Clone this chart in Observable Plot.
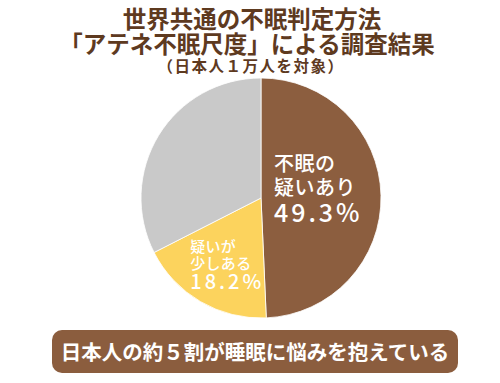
<!DOCTYPE html>
<html>
<head>
<meta charset="utf-8">
<script src="https://cdn.jsdelivr.net/npm/d3@7"></script>
<script src="https://cdn.jsdelivr.net/npm/@observablehq/plot@0.6"></script>
<style>
  html, body { margin: 0; padding: 0; background: #fff; }
  body { width: 500px; height: 383px; position: relative; overflow: hidden;
         font-family: "Noto Sans CJK JP", "Noto Sans", sans-serif; }
  .t { position: absolute; left: 0; width: 500px; text-align: center; color: #5e3a1f; font-weight: 700; white-space: nowrap; }
  #chart { position: absolute; left: 0; top: 75px; }
  #note { position: absolute; left: 52px; top: 330px; width: 406px; height: 43px; border-radius: 10px;
          background: #8b5d3e; color: #fff; font-weight: 700; font-size: 20.5px; line-height: 43px;
          text-align: center; white-space: nowrap; }
</style>
</head>
<body>
<div class="t" id="t1" style="top:6px;height:24px;line-height:24px;font-size:23.5px;left:2px;"></div>
<div class="t" id="t2" style="top:31px;height:24px;line-height:24px;font-size:23.5px;left:-3px;"></div>
<div class="t" id="t3" style="top:56px;height:18px;line-height:18px;font-size:15.5px;letter-spacing:1.5px;left:1px;"></div>
<div id="chart"></div>
<div id="note"></div>
<script>
// ---- data ----
const titleLines = ["世界共通の不眠判定方法", "「アテネ不眠尺度」による調査結果", "（日本人１万人を対象）"];
const categories = ["不眠の疑いあり", "不眠の疑いが少しある", "不眠の疑いなし"];
const sliceLabels = ["不眠の\n疑いあり", "疑いが\n少しある", ""];
const values = [49.3, 18.2, 32.5];
const percentLabels = ["49.3%", "18.2%", ""];
const noteText = "日本人の約５割が睡眠に悩みを抱えている";

// ---- styles ----
const sliceColors = ["#8c5e3f", "#fcd35d", "#c9c9c9"];
const labelStyle = [
  {k: 0.47, dx: -44, dyName: -22, dyPct: 17, nameSize: 20, pctSize: 25, lh: 1.22, ls: 3, nls: 0.5},
  {k: 0.60, dx: -35, dyName: -6, dyPct: 22, nameSize: 15, pctSize: 20, lh: 1.13, ls: 3, nls: 0.3},
  null
];

document.getElementById("t1").textContent = titleLines[0];
document.getElementById("t2").textContent = titleLines[1];
document.getElementById("t3").textContent = titleLines[2];
document.getElementById("note").textContent = noteText;

const table = categories.map((c, i) => ({category: c, label: sliceLabels[i], value: values[i], pct: percentLabels[i]}));
const arcs = d3.pie().sort(null).value(d => d.value)(table);
arcs.forEach(a => {
  a.mid = (a.startAngle + a.endAngle) / 2;
});

const R = 120, CX = 261, CY = 123;

const marks = [
  (index, scales) => {
    const {x, y} = scales;
    const cx = x(0), cy = y(0), r = Math.abs(x(1) - x(0));
    const arcGen = d3.arc().innerRadius(0).outerRadius(r);
    const g = d3.create("svg:g").attr("transform", `translate(${cx},${cy})`);
    g.selectAll("path").data(arcs).join("path")
      .attr("d", arcGen)
      .attr("fill", d => sliceColors[d.index])
      .attr("stroke", "#fff")
      .attr("stroke-width", 0.8);
    return g.node();
  }
];

const spacingByText = new Map();
arcs.forEach((a, i) => {
  const s = labelStyle[i];
  if (!s) return;
  const pos = [{x: s.k * Math.sin(a.mid), y: -s.k * Math.cos(a.mid), label: a.data.label, pct: a.data.pct}];
  spacingByText.set(a.data.pct, s.ls);
  a.data.label.split("\n").forEach(l => spacingByText.set(l, s.nls));
  marks.push(Plot.text(pos, {
    x: "x", y: "y", text: "label", textAnchor: "start", lineAnchor: "middle",
    dx: s.dx, dy: s.dyName, fill: "#fff", fontSize: s.nameSize, lineHeight: s.lh,
    fontFamily: "Noto Sans CJK JP", fontWeight: 500
  }));
  marks.push(Plot.text(pos, {
    x: "x", y: "y", text: "pct", textAnchor: "start", lineAnchor: "middle",
    dx: s.dx, dy: s.dyPct, fill: "#fff", fontSize: s.pctSize,
    fontFamily: "Noto Sans CJK JP", fontWeight: 500
  }));
});

const chart = Plot.plot({
  width: 500,
  height: 250,
  margin: 0,
  x: {domain: [-1, 1], range: [CX - R, CX + R], axis: null},
  y: {domain: [-1, 1], range: [CY - R, CY + R], axis: null},
  style: {background: "transparent", fontFamily: "Noto Sans CJK JP"},
  marks
});
chart.querySelectorAll("text, tspan").forEach(t => {
  const v = spacingByText.get(t.textContent);
  if (v != null) t.setAttribute("letter-spacing", v);
});
document.getElementById("chart").appendChild(chart);
</script>
</body>
</html>
